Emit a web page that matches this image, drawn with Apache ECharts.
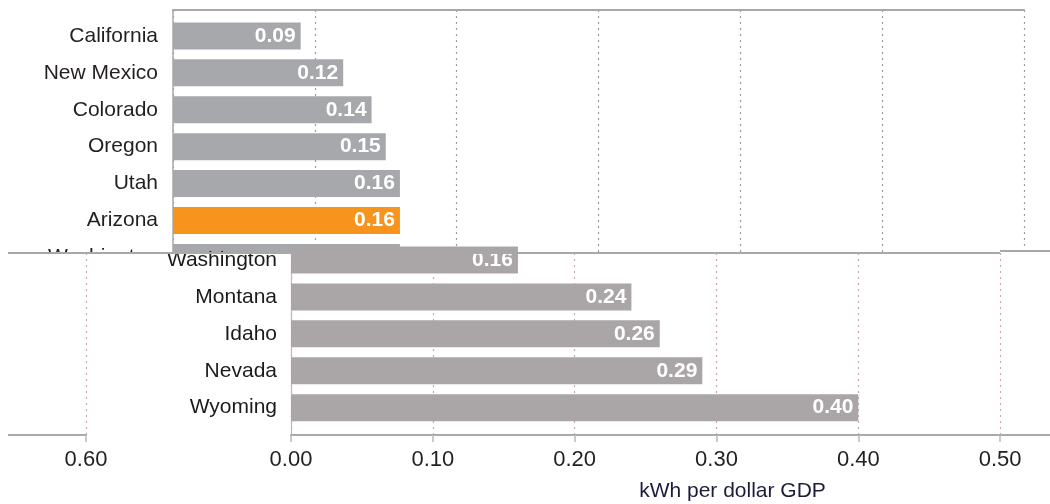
<!DOCTYPE html>
<html>
<head>
<meta charset="utf-8">
<script src="https://cdn.jsdelivr.net/npm/echarts@6/dist/echarts.min.js"></script>
<style>
  html, body { margin: 0; padding: 0; background: #fff; }
  #chart { width: 1050px; height: 504px; }
</style>
</head>
<body>
<div id="chart"></div>
<script>
// Electricity intensity by state (kWh per dollar of GDP)
const states = ['California', 'New Mexico', 'Colorado', 'Oregon', 'Utah', 'Arizona',
                'Washington', 'Montana', 'Idaho', 'Nevada', 'Wyoming'];
const intensity = [0.09, 0.12, 0.14, 0.15, 0.16, 0.16, 0.16, 0.24, 0.26, 0.29, 0.40];
const highlighted = 'Arizona';
const lowerFirst = 'Washington';
const axisMin = 0, axisMax = 0.6, axisStep = 0.1;
const unitLabel = 'kWh per dollar GDP';

const FONT = "'Liberation Sans Narrow', 'Arial Narrow', 'Liberation Sans', Arial, sans-serif";
const chart = echarts.init(document.getElementById('chart'), null, { renderer: 'canvas' });

// layout of the two panels
const SCALE_W = 851;
const BAND = 406 / states.length;
const firstLower = states.indexOf(lowerFirst);
const lowerCount = states.length - firstLower;
const FRONT = 20;

const fmt = v => v.toFixed(2);

function barData(baseColor) {
  return intensity.map((v, i) => ({
    value: v,
    itemStyle: { color: states[i] === highlighted ? '#f7941d' : baseColor }
  }));
}

const valueLabel = {
  show: true,
  position: 'insideRight',
  distance: 5,
  color: '#ffffff',
  fontFamily: FONT,
  fontWeight: 'bold',
  fontSize: 21,
  formatter: p => fmt(p.value)
};

function scaleAxis(grid, extra) {
  return Object.assign({
    type: 'value', gridIndex: grid, min: axisMin, max: axisMax, interval: axisStep
  }, extra);
}

function gridBox(left, top, width, height) {
  return { left, top, width, height, outerBoundsMode: 'none', containLabel: false };
}

function lowerXAxisStyle() {
  return {
    position: 'bottom',
    z: FRONT,
    axisLine: { show: true, onZero: false, lineStyle: { color: '#a9a9a9', width: 2 } },
    axisTick: { show: true, length: 7, lineStyle: { color: '#c4b4b6', width: 1.5 } },
    splitLine: { show: true, lineStyle: { color: '#c9a9ae', type: [2, 4], width: 1.2 } },
    axisLabel: { show: true, margin: 14, color: '#231f20', fontFamily: FONT, fontSize: 22, formatter: fmt }
  };
}

const option = {
  animation: false,
  backgroundColor: '#ffffff',
  grid: [
    gridBox(173, 10, SCALE_W, 422),                            // upper frame
    gridBox(173, 17.5, SCALE_W, BAND * states.length),         // upper bars
    gridBox(291, 253, SCALE_W, 182),                           // lower frame
    gridBox(291, 260 - BAND / 2, SCALE_W, BAND * lowerCount),  // lower bars
    gridBox(86 - SCALE_W, 253, SCALE_W, 182)                   // lower frame, wrapped end
  ],
  xAxis: [
    scaleAxis(0, {
      position: 'bottom',
      axisLine: { show: false }, axisTick: { show: false }, axisLabel: { show: false },
      splitLine: { show: true, lineStyle: { color: '#9d9d9d', type: [2, 4], width: 1.2 } }
    }),
    scaleAxis(0, {
      position: 'top',
      axisLine: { show: true, onZero: false, lineStyle: { color: '#a8a8a8', width: 2 } },
      axisTick: { show: false }, axisLabel: { show: false }, splitLine: { show: false }
    }),
    scaleAxis(1, { show: false }),
    scaleAxis(2, Object.assign(lowerXAxisStyle(), {
      name: unitLabel,
      nameLocation: 'middle',
      nameGap: 46,
      nameTextStyle: { color: '#1b1b3c', fontFamily: FONT, fontSize: 21, padding: [0, 0, 0, 32] }
    })),
    scaleAxis(3, { show: false }),
    scaleAxis(4, lowerXAxisStyle())
  ],
  yAxis: [
    { type: 'value', gridIndex: 0, position: 'left',
      axisLine: { show: true, onZero: false, lineStyle: { color: '#a8a8a8', width: 1.5 } },
      axisTick: { show: false }, axisLabel: { show: false }, splitLine: { show: false } },
    { type: 'category', gridIndex: 1, data: states, inverse: true,
      axisLine: { show: false }, axisTick: { show: false }, splitLine: { show: false },
      axisLabel: { margin: 15, color: '#231f20', fontFamily: FONT, fontSize: 21 } },
    { type: 'value', gridIndex: 2, position: 'left', z: FRONT,
      axisLine: { show: true, onZero: false, lineStyle: { color: '#e3a9ad', width: 1.2 } },
      axisTick: { show: false }, axisLabel: { show: false }, splitLine: { show: false } },
    { type: 'category', gridIndex: 3, data: states, inverse: true, z: FRONT,
      min: firstLower, max: states.length - 1,
      axisLine: { show: false }, axisTick: { show: false }, splitLine: { show: false },
      axisLabel: { margin: 14, color: '#1d1a1b', fontFamily: FONT, fontSize: 21 } },
    { type: 'value', gridIndex: 4, show: false }
  ],
  series: [
    {
      type: 'bar', xAxisIndex: 2, yAxisIndex: 1,
      barWidth: 27,
      data: barData('#a7a8ab'),
      label: valueLabel
    },
    {
      type: 'bar', xAxisIndex: 4, yAxisIndex: 3, z: FRONT,
      barWidth: 27,
      clip: true,
      data: barData('#aaa6a7'),
      label: valueLabel
    }
  ],
  graphic: {
    elements: [
      { type: 'rect', z: 10, shape: { x: 0, y: 253, width: 1050, height: 251 },
        style: { fill: '#ffffff' } },
      { type: 'rect', z: 30, shape: { x: 0, y: 250, width: 8, height: 195 },
        style: { fill: '#ffffff' } },
      { type: 'line', z: 25, shape: { x1: 8, y1: 253, x2: 1000, y2: 253 },
        style: { stroke: '#a8a8a8', lineWidth: 2 } },
      { type: 'line', z: 25, shape: { x1: 1000, y1: 251, x2: 1050, y2: 251 },
        style: { stroke: '#a8a8a8', lineWidth: 2 } }
    ]
  }
};

chart.setOption(option);
</script>
</body>
</html>
